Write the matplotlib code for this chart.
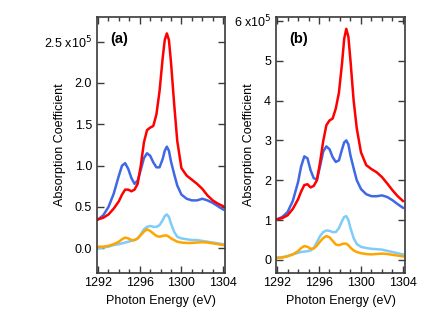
import numpy as np
import matplotlib
matplotlib.use('Agg')
import matplotlib.pyplot as plt
from matplotlib.ticker import MultipleLocator, FuncFormatter

plt.rcParams['font.family'] = ['Liberation Sans', 'DejaVu Sans']

# photon energy grid (eV), shared by both panels
energy = [1292, 1292.5, 1293, 1293.5, 1294, 1294.3, 1294.6, 1294.9, 1295.2, 1295.5,
          1295.8, 1296.1, 1296.4, 1296.7, 1297.0, 1297.3, 1297.6, 1297.9, 1298.2, 1298.4,
          1298.6, 1298.8, 1299.0, 1299.3, 1299.6, 1300.0, 1300.5, 1301, 1301.5, 1302,
          1302.5, 1303, 1303.5, 1304]

# panel (a), units of 1e5
a_red = [0.35, 0.37, 0.41, 0.48, 0.57, 0.65, 0.71, 0.71, 0.69, 0.71,
         0.78, 1.00, 1.28, 1.43, 1.46, 1.48, 1.62, 1.90, 2.30, 2.52,
         2.60, 2.52, 2.25, 1.75, 1.30, 0.97, 0.88, 0.83, 0.78, 0.72,
         0.64, 0.58, 0.54, 0.51]
a_blue = [0.35, 0.40, 0.50, 0.66, 0.88, 1.00, 1.03, 0.96, 0.85, 0.78,
          0.82, 0.95, 1.09, 1.15, 1.12, 1.04, 0.98, 0.98, 1.08, 1.18,
          1.23, 1.18, 1.05, 0.90, 0.76, 0.65, 0.60, 0.58, 0.58, 0.60,
          0.58, 0.55, 0.51, 0.47]
a_cyan = [0.00, 0.01, 0.02, 0.04, 0.05, 0.06, 0.07, 0.08, 0.09, 0.10,
          0.12, 0.17, 0.23, 0.26, 0.27, 0.26, 0.26, 0.28, 0.34, 0.39,
          0.41, 0.38, 0.30, 0.20, 0.14, 0.12, 0.11, 0.10, 0.10, 0.09,
          0.08, 0.07, 0.06, 0.05]
a_orange = [0.02, 0.02, 0.03, 0.05, 0.08, 0.11, 0.13, 0.12, 0.10, 0.10,
            0.12, 0.16, 0.20, 0.23, 0.21, 0.18, 0.15, 0.14, 0.15, 0.155,
            0.155, 0.14, 0.12, 0.10, 0.08, 0.07, 0.065, 0.065, 0.07, 0.075,
            0.07, 0.06, 0.05, 0.04]

# panel (b), units of 1e5
b_red = [1.02, 1.05, 1.12, 1.28, 1.52, 1.72, 1.88, 1.90, 1.82, 1.86,
         2.00, 2.45, 2.98, 3.38, 3.50, 3.55, 3.80, 4.20, 4.95, 5.55,
         5.80, 5.60, 5.00, 4.00, 3.30, 2.70, 2.38, 2.28, 2.20, 2.08,
         1.92, 1.75, 1.60, 1.48]
b_blue = [1.02, 1.08, 1.20, 1.48, 1.95, 2.35, 2.60, 2.55, 2.25, 2.05,
          2.02, 2.35, 2.72, 2.85, 2.78, 2.58, 2.46, 2.50, 2.78, 2.95,
          3.00, 2.90, 2.62, 2.30, 2.00, 1.78, 1.65, 1.60, 1.60, 1.62,
          1.58, 1.50, 1.40, 1.31]
b_cyan = [0.06, 0.07, 0.10, 0.14, 0.18, 0.20, 0.21, 0.22, 0.24, 0.30,
          0.45, 0.60, 0.70, 0.74, 0.73, 0.70, 0.70, 0.80, 0.98, 1.08,
          1.10, 1.00, 0.80, 0.55, 0.40, 0.33, 0.30, 0.28, 0.27, 0.26,
          0.23, 0.20, 0.17, 0.14]
b_orange = [0.05, 0.06, 0.09, 0.14, 0.22, 0.30, 0.35, 0.33, 0.28, 0.29,
            0.36, 0.46, 0.55, 0.60, 0.57, 0.48, 0.39, 0.37, 0.40, 0.41,
            0.41, 0.37, 0.31, 0.24, 0.20, 0.17, 0.15, 0.14, 0.15, 0.16,
            0.15, 0.13, 0.11, 0.09]

x_ticks = [1292, 1296, 1300, 1304]
a_yticks = [0.0, 0.5, 1.0, 1.5, 2.0, 2.5]
b_yticks = [0, 1, 2, 3, 4, 5, 6]

colors = {'red': '#ff0000', 'blue': '#3f68e6', 'cyan': '#80ccf8', 'orange': '#ffa500'}
frame_col = '#3a3a3a'

fig = plt.figure(figsize=(4.36, 3.24), dpi=100)
ax_a = fig.add_axes([0.2225, 0.157, 0.294, 0.791])
ax_b = fig.add_axes([0.633, 0.157, 0.296, 0.791])


def fmt_a(v, pos):
    if abs(v - 2.5) < 1e-6:
        return '2.5 x10$^5$'
    return '%.1f' % v


def fmt_b(v, pos):
    if abs(v - 6) < 1e-6:
        return '6 x10$^5$'
    return '%d' % round(v)


def style(ax, yticks, ylim, fmt, label, ylab_x):
    ax.set_xlim(1291.9, 1304.2)
    ax.set_ylim(*ylim)
    ax.set_xticks(x_ticks)
    ax.xaxis.set_minor_locator(MultipleLocator(1))
    ax.set_yticks(yticks)
    ax.yaxis.set_major_formatter(FuncFormatter(fmt))
    ax.tick_params(which='both', direction='in', top=True, right=True,
                   color=frame_col, width=1.0, labelsize=9)
    ax.tick_params(which='major', length=5)
    ax.tick_params(which='minor', length=3)
    ax.tick_params(axis='y', pad=3.5)
    ax.tick_params(axis='x', pad=3)
    for sp in ax.spines.values():
        sp.set_color(frame_col)
        sp.set_linewidth(1.2)
    ax.set_xlabel('Photon Energy (eV)', fontsize=9)
    ax.xaxis.set_label_coords(0.5, -0.085)
    ax.set_ylabel('Absorption Coefficient', fontsize=9)
    ax.yaxis.set_label_coords(ylab_x, 0.5)
    ax.text(0.1, 0.915, label, transform=ax.transAxes, fontsize=10.5,
            fontweight='bold', va='center', ha='left')


lw = 1.8
ax_a.plot(energy, a_blue, color=colors['blue'], lw=lw)
ax_a.plot(energy, a_red, color=colors['red'], lw=lw)
ax_a.plot(energy, a_cyan, color=colors['cyan'], lw=lw)
ax_a.plot(energy, a_orange, color=colors['orange'], lw=lw)
style(ax_a, a_yticks, (-0.30, 2.80), fmt_a, '(a)', -0.245)

ax_b.plot(energy, b_blue, color=colors['blue'], lw=lw)
ax_b.plot(energy, b_red, color=colors['red'], lw=lw)
ax_b.plot(energy, b_cyan, color=colors['cyan'], lw=lw)
ax_b.plot(energy, b_orange, color=colors['orange'], lw=lw)
style(ax_b, b_yticks, (-0.33, 6.10), fmt_b, '(b)', -0.165)

fig.savefig('out.png', dpi=100)
